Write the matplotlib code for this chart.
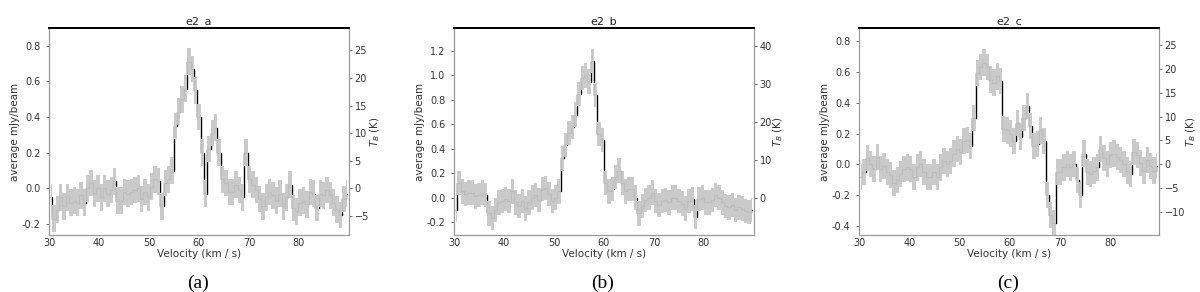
import numpy as np
import matplotlib
matplotlib.use('Agg')
import matplotlib.pyplot as plt

# spectra (average mJy/beam per channel)
spec_a = [-0.05, -0.17, -0.12, -0.05, -0.10, -0.05, -0.08, -0.07, -0.08, -0.04,
          -0.08, 0.00, 0.03, -0.03, 0.00, -0.05, 0.00, -0.03, -0.01, 0.04,
          -0.07, -0.07, -0.02, -0.03, -0.02, -0.01, 0.00, -0.06, -0.02, -0.05,
          0.01, 0.05, 0.04, -0.10, 0.03, 0.05, 0.10, 0.35, 0.43, 0.50,
          0.56, 0.71, 0.67, 0.55, 0.40, 0.20, -0.03, 0.22, 0.31, 0.34,
          0.20, 0.05, 0.03, -0.02, -0.02, 0.02, -0.01, -0.05, 0.20, 0.05,
          0.02, -0.01, -0.06, -0.10, -0.05, -0.02, -0.04, -0.07, -0.03, -0.10,
          -0.05, 0.02, -0.11, -0.13, -0.08, -0.07, -0.09, -0.02, -0.03, -0.11,
          -0.03, -0.04, -0.01, -0.04, -0.08, -0.12, -0.15, -0.06, -0.03]

spec_b = [-0.10, 0.12, 0.05, 0.03, 0.04, 0.04, 0.01, 0.02, 0.04, 0.02,
          -0.13, -0.17, -0.10, -0.04, -0.03, -0.01, -0.03, 0.05, -0.04, -0.07,
          -0.03, -0.09, -0.04, 0.00, 0.02, -0.02, 0.07, 0.08, 0.03, -0.03,
          0.00, 0.05, 0.32, 0.43, 0.53, 0.58, 0.68, 0.85, 0.98, 1.00,
          0.95, 1.12, 0.84, 0.52, 0.47, 0.12, 0.05, 0.07, 0.17, 0.22,
          0.12, 0.05, 0.07, 0.07, 0.00, -0.13, -0.07, -0.02, 0.00, 0.04,
          -0.03, -0.06, -0.03, -0.02, -0.04, 0.00, 0.00, -0.03, -0.05, -0.09,
          -0.03, -0.01, -0.16, -0.01, 0.00, -0.04, -0.04, -0.02, 0.02, 0.00,
          -0.04, -0.07, -0.08, -0.06, -0.10, -0.08, -0.09, -0.11, -0.12, -0.10]

spec_c = [-0.08, -0.05, 0.04, 0.00, -0.03, 0.05, -0.03, -0.01, -0.05, -0.07,
          -0.12, -0.10, -0.06, -0.03, -0.02, -0.03, -0.08, -0.02, 0.00, -0.05,
          -0.08, -0.08, -0.05, -0.08, -0.02, 0.02, 0.00, 0.02, 0.07, 0.10,
          0.08, 0.15, 0.16, 0.12, 0.30, 0.59, 0.63, 0.66, 0.63, 0.55,
          0.53, 0.57, 0.54, 0.23, 0.22, 0.20, 0.15, 0.27, 0.18, 0.30,
          0.38, 0.25, 0.12, 0.13, 0.22, 0.15, -0.20, -0.33, -0.38, -0.05,
          -0.05, -0.02, 0.00, -0.02, 0.00, -0.10, -0.20, 0.07, -0.05, -0.06,
          -0.04, -0.02, 0.10, 0.04, 0.00, 0.06, 0.07, 0.05, 0.03, 0.00,
          -0.04, -0.06, 0.08, 0.06, 0.01, -0.04, 0.03, -0.01, -0.04, -0.01]

names = ['e2_a', 'e2_b', 'e2_c']
captions = ['(a)', '(b)', '(c)']
errs = [0.075, 0.1, 0.085]
ylims = [(-0.262, 0.90), (-0.307, 1.389), (-0.458, 0.884)]
xmax = [90.0, 90.0, 89.6]
lticks = [np.arange(-0.2, 0.81, 0.2), np.arange(-0.2, 1.21, 0.2), np.arange(-0.4, 0.81, 0.2)]
rticks = [np.arange(-5, 26, 5), np.arange(0, 41, 10), np.arange(-10, 26, 5)]
k_per_mjy = 32.3  # T_B scale factor between axes

plt.rcParams['font.family'] = 'DejaVu Sans'
fig = plt.figure(figsize=(12, 2.92), dpi=100)
lefts = [0.0408, 0.3783, 0.7158]
gray_txt = '#333333'
spine_gray = '#999999'

for i, spec in enumerate([spec_a, spec_b, spec_c]):
    spec = np.array(spec)
    n = len(spec)
    dv = (xmax[i] - 30.0) / n
    vel = 30.0 + dv * (np.arange(n) + 0.5)
    ax = fig.add_axes([lefts[i], 0.1952, 0.25, 0.7089])
    ax.plot(vel, spec, drawstyle='steps-mid', color='k', lw=1.0, zorder=2)
    ax.fill_between(vel, spec - errs[i], spec + errs[i], step='mid',
                    color='#c8c8c8', lw=0, alpha=0.95, zorder=3)
    ax.set_xlim(30, xmax[i])
    ax.set_ylim(*ylims[i])
    ax.set_xticks([30, 40, 50, 60, 70, 80])
    ax.set_yticks(lticks[i])
    ax.set_yticklabels(['%.1f' % t if abs(t) > 1e-9 else '0.0' for t in lticks[i]])
    ax.set_title(names[i], fontsize=8, pad=3, color='#222222')
    ax.set_xlabel('Velocity (km / s)', fontsize=7.5, labelpad=1, color=gray_txt)
    ax.set_ylabel('average mJy/beam', fontsize=7.5, labelpad=1, color=gray_txt)
    ax.tick_params(labelsize=7, colors='#555555', labelcolor=gray_txt, length=2.5, width=0.6)
    ax.tick_params(axis='x', length=0, pad=2)
    for s in ['left', 'bottom', 'right']:
        ax.spines[s].set_color(spine_gray)
        ax.spines[s].set_linewidth(0.8)
    ax.spines['top'].set_color('k')
    ax.spines['top'].set_linewidth(1.3)

    ax2 = ax.twinx()
    ax2.set_ylim(ylims[i][0] * k_per_mjy, ylims[i][1] * k_per_mjy)
    ax2.set_yticks(rticks[i])
    ax2.set_ylabel('$T_B$ (K)', fontsize=7.5, labelpad=0, color=gray_txt)
    ax2.tick_params(labelsize=7, colors='#555555', labelcolor=gray_txt, length=2.5, width=0.6, pad=1.5)
    for s in ['left', 'bottom', 'right']:
        ax2.spines[s].set_color(spine_gray)
        ax2.spines[s].set_linewidth(0.8)
    ax2.spines['top'].set_color('k')
    ax2.spines['top'].set_linewidth(1.3)

    fig.text(lefts[i] + 0.124, 0.0, captions[i], ha='center', va='bottom',
             fontsize=14, family='Liberation Serif')

fig.savefig('out.png', dpi=100)
